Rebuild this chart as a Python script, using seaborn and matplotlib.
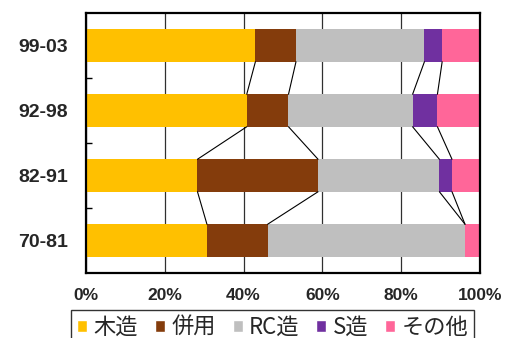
import numpy as np
import pandas as pd
import seaborn as sns
import matplotlib.pyplot as plt
from matplotlib.patches import Patch

## data
periods = ['99-03', '92-98', '82-91', '70-81']
kinds = ['木造', '併用', 'RC造', 'S造', 'その他']
wood = [43.0, 40.8, 28.3, 30.7]
mixed = [10.3, 10.6, 30.6, 15.4]
rc = [32.6, 31.5, 30.8, 50.1]
steel = [4.5, 6.3, 3.2, 0.0]
other = [9.6, 10.8, 7.1, 3.8]
colors = ['#FFC000', '#843C0C', '#BFBFBF', '#7030A0', '#FF6699']

df = pd.DataFrame({'period': periods, '木造': wood, '併用': mixed,
                   'RC造': rc, 'S造': steel, 'その他': other})
cum = df[kinds].cumsum(axis=1)

## style
sns.set_style('white')
plt.rcParams['font.family'] = ['Noto Sans CJK JP', 'DejaVu Sans']

fig, ax = plt.subplots(figsize=(5.07, 3.38), dpi=100)
fig.subplots_adjust(left=0.1696, right=0.9467, top=0.9615, bottom=0.1923)

# stacked bars: draw cumulative totals from the largest down
for k, c in reversed(list(zip(kinds, colors))):
    sns.barplot(x=cum[k], y=df['period'], color=c, width=0.5,
                linewidth=0, saturation=1, orient='h', ax=ax)

# series lines between neighbouring bars
for k in kinds[:-1]:
    vals = cum[k].values
    for i in range(len(periods) - 1):
        ax.plot([vals[i], vals[i + 1]], [i + 0.25, i + 0.75],
                color='black', lw=0.8, zorder=3)

ax.set_xlim(0, 100)
ax.set_ylim(3.5, -0.5)
ax.set_xlabel('')
ax.set_ylabel('')
ax.set_axisbelow(True)
ax.xaxis.grid(True, color='#303030', lw=0.9)
ax.yaxis.grid(False)

ax.set_xticks(np.arange(0, 101, 20))
ax.set_xticklabels([f'{v}%' for v in range(0, 101, 20)],
                   fontsize=12.5, fontweight='bold', family='Liberation Sans')
ax.set_yticks(range(len(periods)))
ax.set_yticklabels(periods, fontsize=14, fontweight='bold', family='Liberation Sans')
ax.tick_params(axis='x', length=0, pad=11)
ax.tick_params(axis='y', which='major', length=0, pad=13)
ax.set_yticks([0.5, 1.5, 2.5], minor=True)
ax.tick_params(axis='y', which='minor', left=True, direction='in',
               length=4, width=1, color='black')

for sp in ax.spines.values():
    sp.set_color('black')
    sp.set_linewidth(1.6)

handles = [Patch(facecolor=c, label=k) for k, c in zip(kinds, colors)]
leg = fig.legend(handles=handles, loc='upper center', bbox_to_anchor=(0.538, 0.083),
                 ncol=5, frameon=True, fancybox=False, edgecolor='black',
                 fontsize=16, handlelength=0.45, handleheight=0.45,
                 handletextpad=0.3, columnspacing=0.75, borderpad=0.25,
                 borderaxespad=0)
leg.get_frame().set_linewidth(1)

fig.savefig('out.png', dpi=100)
